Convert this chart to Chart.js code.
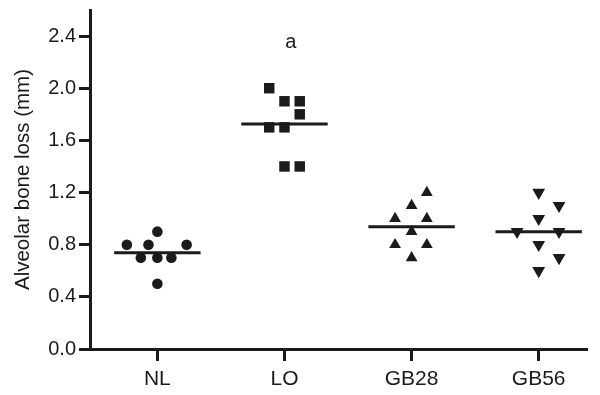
<!DOCTYPE html>
<html>
<head>
<meta charset="utf-8">
<script src="https://cdn.jsdelivr.net/npm/chart.js@4.4.0/dist/chart.umd.min.js"></script>
<style>
  html, body { margin: 0; padding: 0; background: #fff; }
  #wrap { width: 600px; height: 395px; }
</style>
</head>
<body>
<div id="wrap"><canvas id="bone-chart"></canvas></div>
<script>
// groups along the x axis
const groups = ["NL", "LO", "GB28", "GB56"];
const groupPos = [1, 2, 3, 4];
const yTicks = [0, 0.4, 0.8, 1.2, 1.6, 2.0, 2.4];

// individual animals: bone loss (mm) and horizontal spread
const nlY = [0.9, 0.8, 0.8, 0.8, 0.7, 0.7, 0.7, 0.5];
const nlX = [1.0, 0.76, 0.93, 1.23, 0.87, 1.0, 1.11, 1.0];
const loY = [2.0, 1.9, 1.9, 1.8, 1.7, 1.7, 1.4, 1.4];
const loX = [1.88, 2.0, 2.12, 2.12, 1.88, 2.0, 2.0, 2.12];
const gb28Y = [1.2, 1.1, 1.0, 1.0, 0.9, 0.8, 0.8, 0.7];
const gb28X = [3.12, 3.0, 2.87, 3.12, 3.0, 2.87, 3.12, 3.0];
const gb56Y = [1.2, 1.1, 1.0, 0.9, 0.9, 0.8, 0.7, 0.6];
const gb56X = [4.0, 4.16, 4.0, 3.83, 4.16, 4.0, 4.16, 4.0];

// significance letter
const noteText = ["a"];
const noteX = [2.05];
const noteY = [2.35];

const ink = "#1b1b1b";
const halfBar = 0.34;

const pts = (xs, ys) => ys.map((y, i) => ({ x: xs[i], y: y }));
const mean = ys => ys.reduce((a, b) => a + b, 0) / ys.length;
const meanLine = (pos, ys) => ({
    type: "line",
    data: [{ x: pos - halfBar, y: mean(ys) }, { x: pos + halfBar, y: mean(ys) }],
    borderColor: ink,
    borderWidth: 3,
    pointRadius: 0,
    fill: false
});

const notes = {
    id: "notes",
    afterDatasetsDraw(chart) {
        const ctx = chart.ctx;
        ctx.save();
        ctx.fillStyle = ink;
        ctx.font = "20px 'Liberation Sans', Arial, sans-serif";
        ctx.textAlign = "center";
        ctx.textBaseline = "middle";
        noteText.forEach((t, i) => {
            ctx.fillText(t, chart.scales.x.getPixelForValue(noteX[i]), chart.scales.y.getPixelForValue(noteY[i]));
        });
        ctx.restore();
    }
};

const font = "'Liberation Sans', Arial, sans-serif";

new Chart(document.getElementById("bone-chart"), {
    type: "scatter",
    data: {
        datasets: [
            { data: pts(nlX, nlY), pointStyle: "circle", pointRadius: 5.3, backgroundColor: ink, borderColor: ink, borderWidth: 0 },
            { data: pts(loX, loY), pointStyle: "rect", pointRadius: 7.4, backgroundColor: ink, borderColor: ink, borderWidth: 0 },
            { data: pts(gb28X, gb28Y), pointStyle: "triangle", pointRadius: 6.8, backgroundColor: ink, borderColor: ink, borderWidth: 0 },
            { data: pts(gb56X, gb56Y), pointStyle: "triangle", rotation: 180, pointRadius: 7.4, backgroundColor: ink, borderColor: ink, borderWidth: 0 },
            meanLine(groupPos[0], nlY),
            meanLine(groupPos[1], loY),
            meanLine(groupPos[2], gb28Y),
            meanLine(groupPos[3], gb56Y)
        ]
    },
    options: {
        responsive: true,
        maintainAspectRatio: false,
        animation: false,
        layout: { padding: { top: 10, right: 13, left: 0, bottom: 0 } },
        plugins: { legend: { display: false }, tooltip: { enabled: false } },
        scales: {
            x: {
                type: "linear",
                min: 0.47,
                max: 4.38,
                afterBuildTicks: s => { s.ticks = groupPos.map(v => ({ value: v })); },
                afterFit: s => { s.height = 46; s.paddingLeft = 0; s.paddingRight = 0; },
                grid: { drawOnChartArea: false, drawTicks: true, tickLength: 12, tickWidth: 3, tickColor: ink },
                border: { display: true, width: 3, color: ink },
                ticks: {
                    padding: 6,
                    color: ink,
                    font: { family: font, size: 21 },
                    callback: v => groups[groupPos.indexOf(v)] || ""
                }
            },
            y: {
                min: 0,
                max: 2.6,
                afterBuildTicks: s => { s.ticks = yTicks.map(v => ({ value: v })); },
                afterFit: s => { s.width = 90; s.paddingTop = 0; s.paddingBottom = 0; },
                grid: { drawOnChartArea: false, drawTicks: true, tickLength: 11, tickWidth: 3, tickColor: ink },
                border: { display: true, width: 3, color: ink },
                ticks: {
                    padding: 3,
                    color: ink,
                    font: { family: font, size: 20 },
                    callback: v => Number(v).toFixed(1)
                },
                title: {
                    display: true,
                    text: "Alveolar bone loss (mm)",
                    color: ink,
                    font: { family: font, size: 20.5 },
                    padding: { top: 11, bottom: 0 }
                }
            }
        }
    },
    plugins: [notes]
});
</script>
</body>
</html>
